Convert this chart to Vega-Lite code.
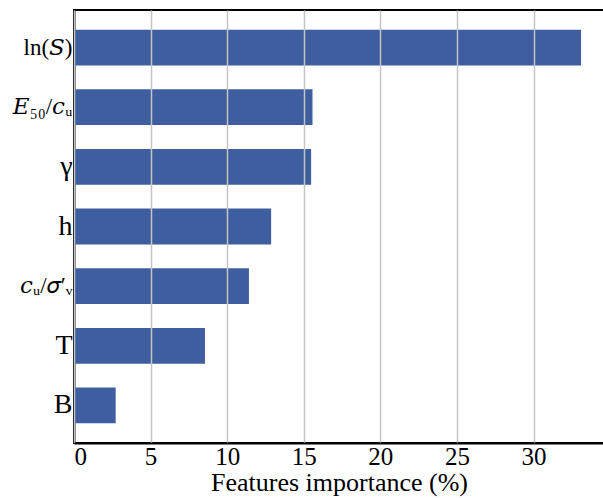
{
  "$schema": "https://vega.github.io/schema/vega-lite/v6.json",
  "width": 530,
  "height": 433,
  "autosize": {"type": "none"},
  "padding": {"left": 74, "top": 10, "right": 0, "bottom": 55},
  "background": "white",
  "config": {
    "font": "Liberation Serif, DejaVu Serif, serif",
    "view": {"stroke": "black", "strokeWidth": 2}
  },
  "data": {
    "values": [
      {"feature": "ln(𝑆)", "importance": 33.1},
      {"feature": "𝐸₅₀/𝑐ᵤ", "importance": 15.57},
      {"feature": "γ", "importance": 15.48},
      {"feature": "h", "importance": 12.87},
      {"feature": "𝑐ᵤ/𝜎′ᵥ", "importance": 11.42},
      {"feature": "T", "importance": 8.55},
      {"feature": "B", "importance": 2.72}
    ]
  },
  "mark": {"type": "bar", "color": "#3F5EA0"},
  "encoding": {
    "y": {
      "field": "feature",
      "type": "nominal",
      "sort": null,
      "scale": {"paddingInner": 0.4, "paddingOuter": 0.33},
      "axis": {
        "title": null,
        "domain": true,
        "domainColor": "black",
        "domainWidth": 2,
        "ticks": true,
        "tickColor": "black",
        "tickSize": -4,
        "labelPadding": 6,
        "labelFont": "Liberation Serif, DejaVu Serif, serif",
        "labelFontSize": {
          "condition": {"test": "indexof(['γ','h','T','B'], datum.value) >= 0", "value": 28},
          "value": 23
        },
        "labelColor": "black"
      }
    },
    "x": {
      "field": "importance",
      "type": "quantitative",
      "scale": {"domain": [0, 34.6], "nice": false},
      "axis": {
        "title": "Features importance (%)",
        "values": [0, 5, 10, 15, 20, 25, 30],
        "zindex": 1,
        "grid": true,
        "gridColor": "#c4c4c4",
        "gridWidth": 1.5,
        "domain": true,
        "domainColor": "black",
        "domainWidth": 2,
        "ticks": false,
        "labelPadding": 1,
        "labelFont": "Liberation Serif, serif",
        "labelFontSize": 25,
        "labelColor": "black",
        "titleFont": "Liberation Serif, serif",
        "titleFontSize": 26,
        "titleFontWeight": "normal",
        "titleColor": "black",
        "titlePadding": 0
      }
    }
  }
}
